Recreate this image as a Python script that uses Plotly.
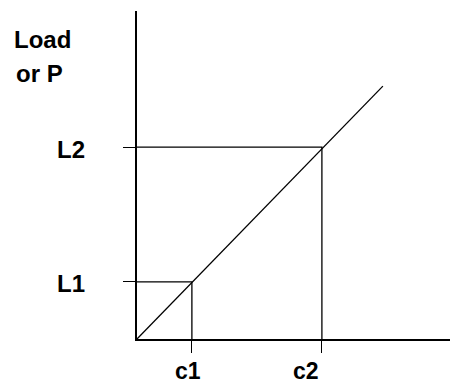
import plotly.graph_objects as go

# load-deflection sketch: two reference points on a straight line
c_vals = [1.71, 5.76]
c_names = ["c1", "c2"]
L_vals = [1.74, 5.85]
L_names = ["L1", "L2"]
line_x = [0, 7.66]
line_y = [0, 7.71]

PX_W, PX_H = 321, 328  # plot area in pixels
X_MAX, Y_MAX = 10, 10

fig = go.Figure()

ln = dict(color="black", width=1.3)
fig.add_trace(go.Scatter(x=line_x, y=line_y, mode="lines", line=ln))
for cx, ly in zip(c_vals, L_vals):
    fig.add_trace(go.Scatter(x=[0, cx, cx], y=[ly, ly, 0], mode="lines", line=ln))

font = dict(family="Liberation Sans, Arial", size=24, color="black")
font_c = dict(font, size=23)

# tick labels placed as text beside the tick marks
for cx, name, dx in zip(c_vals, c_names, [-4, -16]):
    fig.add_annotation(x=cx, y=0, yref="y", text="<b>%s</b>" % name, showarrow=False,
                       font=font_c, xshift=dx, yshift=-32, yanchor="middle",
                       borderpad=0)
for ly, name in zip(L_vals, L_names):
    fig.add_annotation(x=0, y=ly, text="<b>%s</b>" % name, showarrow=False,
                       font=font, xanchor="left", xshift=-82, yshift=-2)

fig.add_annotation(xref="paper", yref="paper", x=-125 / PX_W, y=(339 - 40) / PX_H,
                   text="<b>Load</b>", showarrow=False, font=font,
                   xanchor="left", yanchor="middle")
fig.add_annotation(xref="paper", yref="paper", x=-123 / PX_W, y=(339 - 74) / PX_H,
                   text="<b>or P</b>", showarrow=False, font=font,
                   xanchor="left", yanchor="middle")

fig.update_xaxes(range=[0, X_MAX], showgrid=False, zeroline=False,
                 showline=True, linecolor="black", linewidth=2,
                 tickvals=c_vals, ticktext=["", ""], ticks="outside",
                 ticklen=12, tickwidth=1.3, tickcolor="black")
fig.update_yaxes(range=[0, Y_MAX], showgrid=False, zeroline=False,
                 showline=True, linecolor="black", linewidth=1.5,
                 tickvals=L_vals, ticktext=["", ""], ticks="outside",
                 ticklen=12, tickwidth=1.3, tickcolor="black")

# page body adds an 8px offset, so the figure is 8px smaller and margins shifted
fig.update_layout(width=450, height=377, showlegend=False,
                  margin=dict(l=129, r=0, t=3, b=46),
                  paper_bgcolor="white", plot_bgcolor="white")

fig.write_html("out.html")
